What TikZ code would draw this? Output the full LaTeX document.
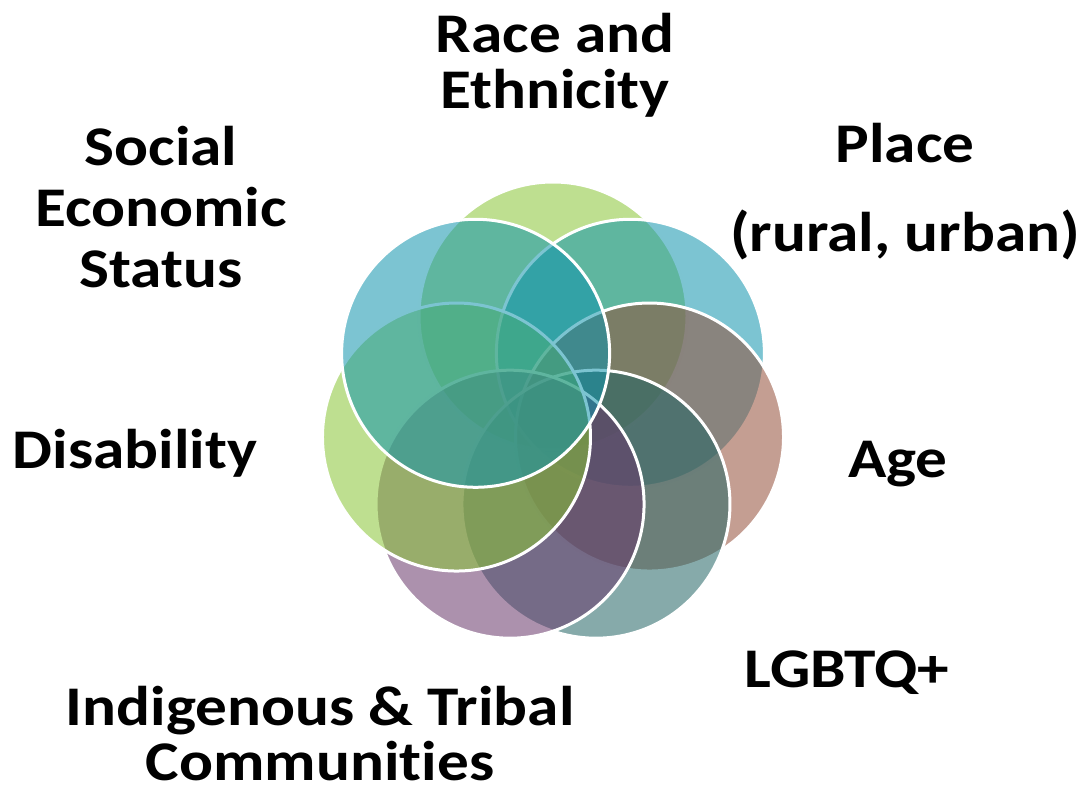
\documentclass[tikz,border=0pt]{standalone}
\usepackage{fontspec}
\setmainfont{Carlito}
\newfontfamily\labelfont{Carlito}[FakeStretch=1.13, Ligatures=NoCommon]
\definecolor{petalGreen}{RGB}{137,197,53}
\definecolor{petalBlue}{RGB}{17,148,173}
\definecolor{petalBrown}{RGB}{148,79,57}
\definecolor{petalSlate}{RGB}{35,101,101}
\definecolor{petalPlum}{RGB}{104,55,106}
\begin{document}
\begin{tikzpicture}[x=1pt,y=-1pt,
  petal/.style={circle, draw=white, line width=3pt, fill opacity=0.55,
                minimum size=268pt, inner sep=0pt, outer sep=0pt},
  lbl/.style={font=\labelfont\bfseries\fontsize{56}{56}\selectfont, align=center,
              inner sep=0pt, anchor=base}]
\useasboundingbox (0,0) rectangle (1086,808);
% seven overlapping circles on a ring, drawn clockwise from the top
\foreach \ang/\col [count=\i] in {90/petalGreen, 38.571/petalBlue,
    -12.857/petalBrown, -64.286/petalSlate, -115.714/petalPlum,
    -167.143/petalGreen, 141.429/petalBlue}
  \node[petal, fill=\col] (p\i) at ({553+99*cos(\ang)}, {415-99*sin(\ang)}) {};
% category labels (anchored at the baseline of their last line)
\node[lbl] (race) at (555,108) {Race and\\Ethnicity};
\node[lbl, font=\labelfont\bfseries\fontsize{56}{61}\selectfont] (ses) at (161,287) {Social\\Economic\\Status};
\node[lbl] (place) at (905,251) {Place\\[33pt](rural, urban)};
\node[lbl] (dis) at (135,468) {Disability};
\node[lbl] (age) at (898,477) {Age};
\node[lbl] (lgbt) at (847,687) {LGBTQ+};
\node[lbl, font=\labelfont\bfseries\fontsize{56}{55}\selectfont] (ind) at (320,780) {Indigenous \& Tribal\\Communities};
\end{tikzpicture}
\end{document}
